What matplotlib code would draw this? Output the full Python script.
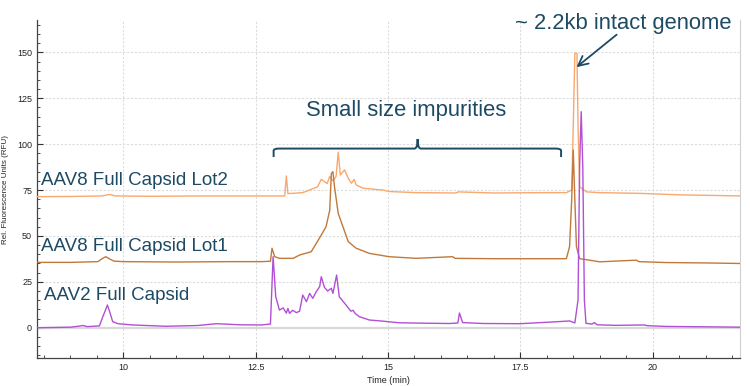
import matplotlib
matplotlib.use("Agg")
import matplotlib.pyplot as plt
from matplotlib.path import Path
from matplotlib.patches import PathPatch
from matplotlib.ticker import MultipleLocator

# ---------------- data ----------------
aav2_t = [8.37, 9.0, 9.15, 9.24, 9.32, 9.55, 9.62, 9.67, 9.70, 9.74, 9.80, 9.9, 10.18, 10.8, 11.4, 11.76, 12.2, 12.6,
          12.78, 12.83, 12.88, 12.95, 13.02, 13.08, 13.11, 13.14, 13.2, 13.27, 13.33, 13.39, 13.46, 13.52, 13.58,
          13.645, 13.71, 13.74, 13.8, 13.86, 13.93, 13.96, 14.03, 14.08, 14.21, 14.3, 14.34, 14.38, 14.46, 14.65,
          14.9, 15.21, 15.6, 16.16, 16.32, 16.35, 16.41, 16.8, 17.5, 18.21, 18.43, 18.53, 18.59, 18.62, 18.65,
          18.68, 18.71, 18.74, 18.85, 18.9, 18.95, 19.3, 19.84, 19.9, 20.26, 21.0, 21.65]
aav2_v = [0.0, 0.3, 0.8, 1.2, 0.6, 1.0, 6.5, 10.0, 12.4, 9.0, 3.3, 2.2, 1.5, 0.8, 1.2, 2.2, 1.6, 1.5,
          2.0, 38.7, 16.9, 9.6, 10.8, 8.0, 10.5, 7.8, 9.5, 8.2, 9.0, 17.8, 14.2, 18.7, 16.0,
          19.6, 22.4, 27.8, 22.0, 20.0, 21.5, 18.7, 28.7, 16.9, 12.3, 9.0, 9.5, 7.8, 6.0, 4.2,
          3.6, 2.7, 2.5, 2.3, 2.6, 8.0, 2.8, 2.3, 2.2, 3.3, 3.7, 2.6, 15.1, 87.8, 117.7,
          87.8, 15.1, 2.4, 2.0, 2.8, 1.6, 1.3, 1.5, 1.1, 0.7, 0.5, 0.3]

lot1_t = [8.37, 9.0, 9.52, 9.6, 9.67, 9.74, 9.82, 10.0, 11.0, 12.0, 12.6, 12.78, 12.81, 12.86, 12.95, 13.21,
          13.33, 13.55, 13.645, 13.74, 13.83, 13.9, 13.93, 13.96, 13.99, 14.06, 14.15, 14.25, 14.4, 14.65, 15.02,
          15.53, 16.22, 16.27, 17.0, 18.0, 18.37, 18.43, 18.47, 18.50, 18.53, 18.56, 18.62, 18.81, 19.0, 19.69,
          19.74, 20.26, 21.0, 21.65]
lot1_v = [35.6, 35.6, 36.0, 37.6, 38.7, 37.5, 36.3, 36.0, 35.8, 36.0, 36.0, 36.2, 43.3, 38.7, 37.8, 37.8,
          39.6, 41.4, 45.9, 50.5, 55.0, 64.0, 84.0, 85.0, 76.8, 62.3, 55.0, 46.9, 43.3, 40.5, 38.7,
          37.8, 38.7, 37.8, 37.6, 37.6, 37.6, 44.2, 69.6, 96.8, 69.6, 44.2, 37.6, 36.8, 35.9, 36.8,
          36.0, 35.5, 35.3, 35.0]

lot2_t = [8.37, 9.0, 9.6, 9.74, 9.85, 10.5, 11.5, 12.5, 13.05, 13.08, 13.11, 13.2, 13.39, 13.52, 13.67, 13.74,
          13.8, 13.85, 13.9, 13.96, 14.02, 14.06, 14.1, 14.18, 14.25, 14.31, 14.36, 14.4, 14.53, 14.9, 15.02,
          15.53, 16.28, 16.33, 17.0, 18.0, 18.37, 18.47, 18.50, 18.53, 18.57, 18.59, 18.62, 18.75, 19.0, 19.75,
          20.5, 21.65]
lot2_v = [71.4, 71.5, 71.8, 72.6, 71.8, 71.6, 71.8, 71.8, 71.8, 82.7, 73.1, 73.2, 73.6, 75.0, 76.8, 80.8,
          79.6, 78.5, 82.4, 80.0, 82.4, 95.6, 83.2, 86.0, 81.4, 78.7, 80.8, 77.8, 76.0, 75.0, 74.2,
          73.6, 73.4, 74.0, 73.4, 73.6, 73.6, 75.0, 110.0, 149.5, 149.5, 110.0, 76.8, 74.0, 73.6, 73.2,
          72.4, 71.8]

x_ticks = [10, 12.5, 15, 17.5, 20]
y_ticks = [0, 25, 50, 75, 100, 125, 150]

labels = ["AAV8 Full Capsid Lot2", "AAV8 Full Capsid Lot1", "AAV2 Full Capsid"]

# ---------------- figure ----------------
fig = plt.figure(figsize=(7.5, 3.86), dpi=100)
ax = fig.add_axes([0.0493, 0.0725, 0.9374, 0.8755])

c_purple = "#b24fd6"
c_brown = "#c0793a"
c_orange = "#f9a86e"
c_text = "#1d4a63"

ax.axhline(0, color="#d8d8d8", lw=1.6, zorder=1)
ax.plot(lot2_t, lot2_v, color=c_orange, lw=1.0, zorder=3)
ax.plot(lot1_t, lot1_v, color=c_brown, lw=1.0, zorder=3)
ax.plot(aav2_t, aav2_v, color=c_purple, lw=1.0, zorder=3)

ax.set_xlim(8.37, 21.65)
ax.set_ylim(-16.5, 167.6)
ax.set_xticks(x_ticks)
ax.set_xticklabels([f"{t:g}" for t in x_ticks])
ax.set_yticks(y_ticks)
ax.xaxis.set_minor_locator(MultipleLocator(0.5))
ax.yaxis.set_minor_locator(MultipleLocator(5))
ax.tick_params(axis="both", which="major", direction="in", length=4, width=0.8,
               labelsize=6.5, colors="#333333", labelcolor="#222222")
ax.tick_params(axis="both", which="minor", direction="in", length=2, width=0.6, colors="#333333")
for lab in ax.get_xticklabels() + ax.get_yticklabels():
    lab.set_family(["Liberation Sans", "DejaVu Sans"])
ax.grid(True, which="major", color="#dcdcdc", lw=0.8, ls=(0, (2, 1.5)))
ax.set_axisbelow(True)

ax.spines["top"].set_visible(False)
ax.spines["right"].set_color("#d0d0d0")
ax.spines["left"].set_color("#444444")
ax.spines["bottom"].set_color("#444444")
ax.spines["left"].set_linewidth(0.9)
ax.spines["bottom"].set_linewidth(0.9)

ax.set_xlabel("Time (min)", fontsize=6.5, color="#222222", labelpad=3,
              family=["Liberation Sans", "DejaVu Sans"])
ax.set_ylabel("Rel. Fluorescence Units (RFU)", fontsize=5.8, color="#222222", labelpad=6,
              family=["Liberation Sans", "DejaVu Sans"])

tfont = dict(family=["Liberation Sans", "DejaVu Sans"], color=c_text)
ax.text(8.45, 80.0, labels[0], fontsize=13.5, va="center", ha="left", **tfont)
ax.text(8.45, 44.5, labels[1], fontsize=13.5, va="center", ha="left", **tfont)
ax.text(8.5, 17.7, labels[2], fontsize=13.5, va="center", ha="left", **tfont)
ax.text(15.35, 118.5, "Small size impurities", fontsize=15.8, va="center", ha="center", **tfont)
ax.text(19.44, 166.0, "~ 2.2kb intact genome", fontsize=15.8, va="center", ha="center", **tfont)

# brace
xl, xr, xm = 12.84, 18.27, 15.56
yb, yt, ytip = 93.0, 97.6, 102.8
verts = [(xl, yb), (xl, yt - 1.2), (xl, yt), (xl + 0.1, yt),
         (xm - 0.06, yt), (xm, yt), (xm, ytip), (xm, yt), (xm + 0.06, yt),
         (xr - 0.1, yt), (xr, yt), (xr, yt - 1.2), (xr, yb)]
codes = [Path.MOVETO, Path.LINETO, Path.CURVE3, Path.CURVE3,
         Path.LINETO, Path.CURVE3, Path.CURVE3, Path.CURVE3, Path.CURVE3,
         Path.LINETO, Path.CURVE3, Path.CURVE3, Path.LINETO]
ax.add_patch(PathPatch(Path(verts, codes), fill=False, edgecolor=c_text, lw=1.4, zorder=4))

ax.annotate("", xy=(18.52, 141.0), xytext=(19.36, 160.6),
            arrowprops=dict(arrowstyle="->,head_length=0.7,head_width=0.35", color=c_text, lw=1.3),
            zorder=5)

fig.savefig("out.png", dpi=100)
